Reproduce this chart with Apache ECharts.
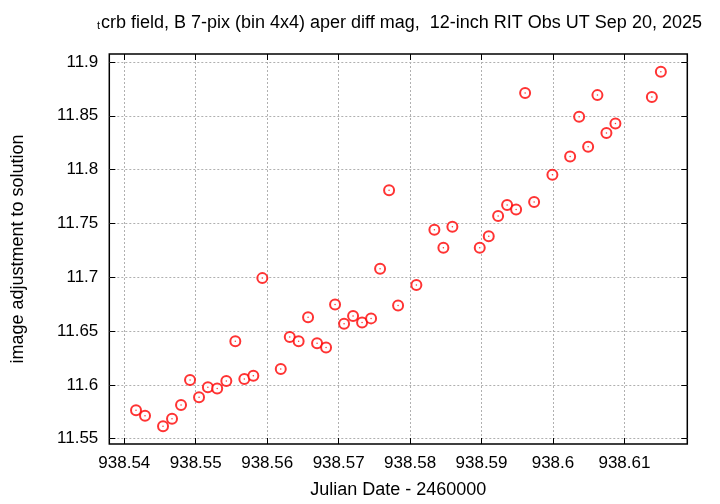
<!DOCTYPE html>
<html><head><meta charset="utf-8">
<script src="https://cdn.jsdelivr.net/npm/echarts@6/dist/echarts.min.js"></script>
<style>html,body{margin:0;padding:0;background:#fff}#c{width:720px;height:504px}</style>
</head><body><div id="c"></div>
<script>
const jd = [938.54164,938.54290,938.54542,938.54668,938.54794,938.54920,938.55046,938.55170,938.55300,938.55428,
938.55554,938.55680,938.55806,938.55932,938.56190,938.56316,938.56440,938.56572,938.56698,938.56824,
938.56950,938.57076,938.57202,938.57328,938.57454,938.57580,938.57706,938.57832,938.58088,938.58340,
938.58466,938.58592,938.58975,938.59101,938.59232,938.59358,938.59484,938.59610,938.59736,938.59992,
938.60240,938.60366,938.60492,938.60622,938.60748,938.60874,938.61384,938.61510];
const mag = [11.5765,11.5713,11.5615,11.5685,11.5814,11.6045,11.5885,11.5978,11.5966,11.6036,
11.6406,11.6054,11.6086,11.6992,11.6147,11.6446,11.6406,11.6628,11.6387,11.6348,
11.6748,11.6567,11.6641,11.6579,11.6618,11.7078,11.7808,11.6738,11.6927,11.7441,
11.7274,11.7469,11.7274,11.7380,11.7570,11.7672,11.7629,11.8711,11.7700,11.7953,
11.8122,11.8492,11.8212,11.8692,11.8341,11.8429,11.8674,11.8910];
const xTicks = [938.54,938.55,938.56,938.57,938.58,938.59,938.60,938.61];
const yTicks = [11.55,11.60,11.65,11.70,11.75,11.80,11.85,11.90];
const titleText = 'crb field, B 7-pix (bin 4x4) aper diff mag,  12-inch RIT Obs UT Sep 20, 2025';
const titleSub = 't';
const xName = 'Julian Date - 2460000';
const yName = 'image adjustment to solution';

const pts = jd.map((x,i)=>[x,mag[i]]);
const FONT = 'Liberation Sans';
const xMin = 938.5379, xMax = 938.6188, yMin = 11.5451, yMax = 11.9074;
const gridLine = {show:true, lineStyle:{color:'#b0b0b0', type:[2,2], width:1}};
function fmtX(v){ return String(Math.round(v*100)/100); }
function fmtY(v){ return String(Math.round(v*100)/100); }

const chart = echarts.init(document.getElementById('c'), null, {renderer:'canvas'});
chart.setOption({
  animation:false,
  backgroundColor:'#fff',
  title:{text:titleText, left:101, top:14, padding:0, textStyle:{fontFamily:FONT, fontSize:18, fontWeight:'normal', color:'#000'}},
  graphic:[{type:'text', left:97, top:20, style:{text:titleSub, font:'11px "Liberation Sans"', fill:'#000'}}],
  grid:{left:109.3, right:32.7, top:54, bottom:58, show:true, borderColor:'#000', borderWidth:1.5, backgroundColor:'transparent'},
  xAxis:[{
    type:'value', min:xMin, max:xMax, position:'bottom',
    name:xName, nameLocation:'middle', nameGap:37,
    nameTextStyle:{fontFamily:FONT, fontSize:18, color:'#000'},
    axisLine:{show:false},
    axisTick:{show:true, inside:true, length:6, customValues:xTicks, lineStyle:{color:'#000', width:1}},
    axisLabel:{customValues:xTicks, formatter:fmtX, fontFamily:FONT, fontSize:17, color:'#000', margin:11},
    splitLine:gridLine
  },{
    type:'value', min:xMin, max:xMax, position:'top',
    axisLine:{show:false},
    axisTick:{show:true, inside:true, length:6, customValues:xTicks, lineStyle:{color:'#000', width:1}},
    axisLabel:{show:false}, splitLine:{show:false}
  }],
  yAxis:[{
    type:'value', min:yMin, max:yMax, position:'left',
    name:yName, nameLocation:'middle', nameGap:82, nameRotate:90,
    nameTextStyle:{fontFamily:FONT, fontSize:18, color:'#000'},
    axisLine:{show:false},
    axisTick:{show:true, inside:true, length:6, customValues:yTicks, lineStyle:{color:'#000', width:1}},
    axisLabel:{customValues:yTicks, formatter:fmtY, fontFamily:FONT, fontSize:17, color:'#000', margin:11},
    splitLine:gridLine
  },{
    type:'value', min:yMin, max:yMax, position:'right',
    axisLine:{show:false},
    axisTick:{show:true, inside:true, length:6, customValues:yTicks, lineStyle:{color:'#000', width:1}},
    axisLabel:{show:false}, splitLine:{show:false}
  }],
  series:[{
    type:'scatter', data:pts, symbol:'emptyCircle', symbolSize:10,
    itemStyle:{color:'#ff0000', borderColor:'#ff0000', borderWidth:1.3}
  },{
    type:'scatter', data:pts, symbol:'circle', symbolSize:1.5,
    itemStyle:{color:'#ff0000'}
  }]
});
</script></body></html>
